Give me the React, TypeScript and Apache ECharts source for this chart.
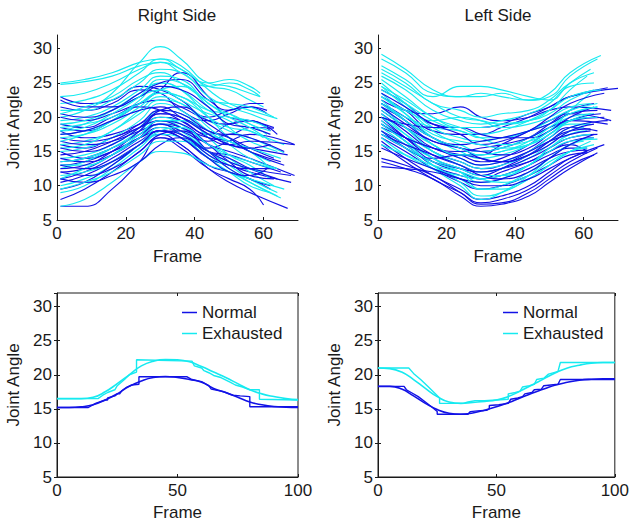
import React, { useEffect, useRef } from 'react';
import * as echarts from 'echarts';

// ---------- data ----------
// Control frames for the individual trials (last point uses the trial's end frame)
const trialFrames = [1, 8, 16, 24, 30, 36, 44, 50, 56];

// Right side, normal trials
const rightNormalEnd = [61, 61, 63, 63, 62, 69, 65, 69, 68, 62, 60, 67, 64, 63, 69, 64, 62, 63, 63, 66, 62, 60, 65, 67, 68, 66, 62, 61];
const rightNormal = [
  [23, 22, 22.5, 24.5, 24, 22.5, 20, 21, 21.5, 20.5],
  [21.5, 21, 22, 24, 23.5, 21, 19.5, 20.5, 21.5, 21],
  [18.5, 18, 19.5, 22, 24, 26.5, 23, 20, 19.5, 18.5],
  [18, 17, 17.5, 19, 20.5, 20, 18, 17.5, 18.5, 18.4],
  [16, 15.5, 17, 18.5, 20, 19.5, 17.5, 19, 19.5, 18],
  [15, 14, 15, 17, 18, 17, 15.5, 16.5, 17.5, 16],
  [13, 13.5, 15, 17, 18.5, 17.5, 15, 14.5, 13.5, 12],
  [12, 12.5, 14.5, 17, 19, 18.5, 16, 15, 14, 11.5],
  [11, 12, 14, 16.5, 18, 17, 14, 13, 12, 10.5],
  [10.5, 11.5, 13.5, 16, 17.5, 16, 13, 12, 11, 9.5],
  [8, 9.5, 12, 15, 17, 15.5, 12.5, 11, 9.5, 7.2],
  [7, 7, 9.5, 13.5, 17, 16, 12.5, 10.5, 9, 6.7],
  [16.5, 16, 16.5, 18, 19, 17.5, 15, 14, 12.5, 11],
  [14, 13.5, 14.5, 17, 19.5, 19, 16, 13.5, 11.5, 11],
  [19, 18.5, 20, 21.5, 21, 19.5, 17, 16, 16.5, 16],
  [20, 19.5, 20.5, 22, 22.5, 21.5, 19.5, 19, 19.5, 17.5],
  [12, 11.5, 12.5, 15, 17.5, 18, 15, 12.5, 11, 10],
  [17, 16.5, 17, 19, 21, 20.5, 18, 17, 15.5, 14],
  [11, 10.5, 11.5, 13.5, 16, 17, 14.5, 13, 12.5, 12.5],
  [13.5, 14, 15.5, 17.5, 19, 18, 16.5, 17.5, 17, 15],
  [22.5, 21.5, 21.5, 23, 24.5, 24, 21.5, 19, 18.5, 17.5],
  [20.5, 20, 21, 23.5, 25, 25.5, 22.5, 21, 22, 22],
  [14.5, 15, 16.5, 18.5, 19.5, 18.5, 17, 16.5, 15, 13.5],
  [12.5, 13, 15, 18, 20.5, 20, 17.5, 16, 15.5, 14.5],
  [9.5, 10.5, 13, 16, 18, 17.5, 15, 13.5, 12.5, 11.5],
  [15.5, 15, 16, 18.5, 21, 21.5, 19, 17, 15, 13],
  [17.5, 18, 19.5, 21, 21.5, 20, 17.5, 16, 15.5, 16],
  [13, 12.5, 13.5, 16, 18, 17, 14, 12, 11.5, 12.5],
];

// Right side, exhausted trials
const rightExhaustedEnd = [59, 59, 59, 64, 61, 62, 66, 64, 66, 64, 62, 63, 64, 65, 64, 62, 61, 60, 62, 61, 60, 63, 60, 65, 61, 63, 66, 62];
const rightExhausted = [
  [25, 25.5, 26.5, 28, 28.5, 27, 25, 25.5, 24.5, 23.5],
  [24.8, 25.2, 26, 27.5, 28, 26.5, 24.5, 25, 24, 23],
  [20, 21, 23.5, 28, 30.3, 28.5, 25, 24.5, 23.5, 23],
  [22, 22.5, 24, 26.5, 28.5, 27.5, 24, 22, 21, 19.8],
  [21, 21, 22.5, 25, 27, 26.5, 23, 21.5, 20.5, 19.5],
  [19.5, 20, 21.5, 24, 26, 25.5, 22, 20.5, 19, 18],
  [18, 19, 21, 23.5, 25, 24, 21, 19.5, 18, 16],
  [17.5, 18, 19.5, 22, 24, 24.5, 21.5, 18.5, 16.5, 15],
  [16, 16.5, 18, 21, 23, 22, 19.5, 18, 17, 14.8],
  [15, 15.5, 17, 19.5, 22, 21, 18, 16, 14, 12.5],
  [14, 14.5, 16, 18.5, 21, 20.5, 17, 14.5, 13, 11],
  [12.5, 13.5, 15.5, 18, 20, 19, 16, 14, 12, 10],
  [11, 12.5, 14.5, 17.5, 19.5, 18.5, 15, 13, 11, 9],
  [10, 11, 13, 16, 18.5, 17.5, 14.5, 12.5, 10.5, 8.2],
  [7, 8, 10.5, 13.5, 15, 14.8, 13, 12, 10.5, 8.5],
  [9, 10, 12.5, 15.5, 17.5, 17, 14, 12, 10, 9],
  [19, 19.5, 21, 23, 24, 22.5, 20.5, 20, 19.5, 18.5],
  [13, 13, 14.5, 17, 19, 18, 15, 13.5, 12.5, 12],
  [16.5, 17.5, 19.5, 22.5, 25, 24, 20, 17, 15, 13.5],
  [18.5, 19, 20, 22, 23.5, 23, 21, 20.5, 19, 17.5],
  [23, 23.5, 25, 27, 28, 27, 24.5, 24, 22.5, 21.5],
  [20.5, 21.5, 23, 25.5, 26.5, 25, 22.5, 22, 21.5, 20],
  [17, 17.5, 19, 21.5, 23.5, 23, 20, 18.5, 18, 17],
  [15.5, 16, 18, 20.5, 22.5, 22, 18.5, 16.5, 15.5, 14],
  [13.5, 14, 15.5, 17.5, 19.5, 19.5, 17.5, 16.5, 15, 13],
  [11.5, 12, 13.5, 16, 18, 18.5, 16, 14.5, 13.5, 12.5],
  [9.5, 10.5, 12, 14.5, 16.5, 16.5, 14, 12, 11, 9.5],
  [18, 18.5, 20.5, 23, 25.5, 25, 22, 20, 18.5, 16.5],
];

// Left side, normal trials
const leftNormalEnd = [70, 67, 68, 63, 68, 67, 64, 62, 63, 61, 66, 61, 61, 66, 64, 63, 64, 61, 63, 67, 66, 64, 65, 62, 64, 63, 61, 63];
const leftNormal = [
  [24, 22, 19, 18.5, 18.5, 19, 20.5, 21.5, 23, 24.2],
  [23, 21, 18, 17.5, 17.5, 18.5, 20, 21.5, 23, 24.3],
  [22.5, 21, 20.5, 21.5, 20, 19.5, 20, 21, 21.5, 21],
  [22, 20, 17, 15.5, 15, 15.5, 17, 19, 21, 22],
  [21.5, 19.5, 16, 14.5, 14.5, 16, 18, 19.5, 20.5, 19.5],
  [21, 18.5, 15.5, 14.5, 13.5, 14, 16, 18, 19.5, 19],
  [20.5, 18, 15, 13.5, 12.5, 13, 15, 17, 18.5, 18],
  [20, 17, 14, 12.5, 11.5, 12.5, 14.5, 16.5, 18, 18.3],
  [19.5, 17, 14.5, 13, 12, 12.5, 13.5, 15, 16.5, 17],
  [19, 16.5, 13.5, 12, 11, 11.5, 13, 14.5, 15.5, 15.5],
  [18.5, 17, 15.5, 15, 15.5, 16, 17, 18.5, 19.5, 20],
  [18, 16, 13, 11.5, 11, 12, 13.5, 15, 16, 15],
  [17, 15, 12.5, 10.5, 9.5, 10, 11.5, 13, 14.5, 14.8],
  [16.5, 14, 11.5, 9.5, 8, 8.5, 10, 12, 14, 16],
  [16, 13.5, 11, 9, 7.5, 8, 9.5, 11.5, 13.5, 15.5],
  [14, 13, 11.5, 9, 7.3, 7.5, 9, 11, 13, 14.5],
  [13.5, 12.5, 11, 8.5, 7, 7.3, 8.5, 10.5, 12.5, 14.8],
  [12.8, 12.5, 12, 11, 10.5, 11, 12.5, 14, 15, 15.2],
  [20, 19, 18.5, 18.5, 17.5, 17, 17, 18, 20, 21.5],
  [17.5, 15.5, 14, 14.5, 14, 13.5, 14.5, 16.5, 18.5, 19.5],
  [23.5, 21.5, 19, 17.5, 16, 16.5, 18, 20, 22, 23.5],
  [22, 19.5, 17, 16, 16.5, 17, 18, 19, 20.5, 21],
  [20, 18.5, 16.5, 15.5, 15, 14.5, 15.5, 17.5, 19.5, 20.5],
  [19, 17, 15.5, 14, 13, 13.5, 15, 16.5, 17.5, 18],
  [18, 15.5, 13.5, 12.5, 12, 12.5, 14, 15.5, 17, 17.5],
  [17.5, 16, 14.5, 13, 11.5, 11, 12, 14, 16, 17.5],
  [15.5, 14, 12.5, 11, 10, 10, 11, 12.5, 14, 15],
  [21.5, 19, 16.5, 15.5, 14, 13.5, 14.5, 16, 18, 19],
];

// Left side, exhausted trials
const leftExhaustedEnd = [65, 64, 62, 63, 63, 65, 64, 63, 61, 62, 60, 64, 60, 62, 63, 61, 64, 62, 62, 62, 61, 63, 64, 62, 62, 61, 63, 64];
const leftExhausted = [
  [29.2, 27, 24, 23, 23, 23.5, 22.5, 23.5, 26.5, 29],
  [28.5, 26.5, 23.5, 23, 23.5, 23, 22.5, 23, 26, 28.5],
  [27.5, 25.5, 23, 24.5, 24.5, 24, 23, 22.5, 25, 27],
  [27, 25, 22, 21, 20, 20.5, 21, 22.5, 25, 26.5],
  [26, 24, 21, 19.5, 19, 19.5, 20.5, 22, 24.5, 25],
  [25.5, 23, 20, 18.5, 17.5, 18, 19.5, 21, 23, 24],
  [25, 22, 18.5, 17, 16.5, 17, 18, 19.5, 21, 22],
  [24.5, 21.5, 18, 16, 15, 15.5, 17, 18.5, 20, 20.5],
  [23.5, 20.5, 17, 15, 14, 14.5, 16, 18, 19.5, 20],
  [22.5, 19.5, 16, 14, 13, 13.5, 15, 17, 19, 19],
  [21.5, 18.5, 15, 13, 12, 12.5, 14, 16, 18, 18.5],
  [20.5, 17.5, 14, 12, 10.5, 11, 13, 15, 16.5, 16.8],
  [19.5, 16.5, 13, 11, 9.5, 10, 12, 14, 16, 16.5],
  [18.5, 16, 13, 10.5, 8.5, 9, 11, 13, 15, 16.5],
  [18, 15.5, 12.5, 10, 8, 9, 11.5, 14, 16, 17],
  [17, 14.5, 12.5, 11.5, 11, 11.5, 13, 15.5, 17.5, 18],
  [22, 20, 18.5, 18, 17, 17, 18, 19, 20.5, 21.5],
  [23, 21, 19.5, 20, 19.5, 18.5, 19, 20, 21.5, 22],
  [20, 17.5, 15, 13.5, 12.5, 13, 14.5, 16.5, 18.5, 19],
  [24, 22, 19.5, 18, 17, 16, 16.5, 18, 21, 23.5],
  [26.5, 24.5, 22, 20, 19.5, 19, 19.5, 21, 24, 26],
  [24.5, 22.5, 20, 18.5, 18.5, 19, 19.5, 20.5, 22.5, 24],
  [23, 20.5, 17.5, 16.5, 16, 15.5, 16, 17.5, 19.5, 20],
  [21, 18.5, 16, 14.5, 14.5, 15, 16, 17.5, 19.5, 20.5],
  [19, 16.5, 14, 12.5, 11.5, 11.5, 13, 15.5, 17, 17.5],
  [17.5, 15.5, 13.5, 12, 9.5, 9.5, 11, 13, 15, 15.5],
  [16, 14.5, 13, 12, 11, 10.5, 11.5, 13.5, 15, 16],
  [22, 19.5, 17, 15.5, 14.5, 15, 16.5, 18.5, 20.5, 21.5],
];

// Normalised mean curves (frames 0..100 every 5)
const meanFrames = [0, 5, 10, 15, 20, 25, 30, 35, 40, 45, 50, 55, 60, 65, 70, 75, 80, 85, 90, 95, 100];
const rightMeanNormal = [15.2, 15.2, 15.3, 15.6, 16.3, 17.2, 18.3, 19.1, 19.6, 19.75, 19.6, 19.3, 18.9, 18.0, 17.4, 16.7, 16.0, 15.6, 15.35, 15.25, 15.2];
const rightMeanExhausted = [16.5, 16.5, 16.5, 16.7, 17.5, 18.7, 20.0, 21.3, 22.0, 22.25, 22.2, 21.9, 21.2, 20.4, 19.6, 18.7, 17.8, 17.2, 16.8, 16.5, 16.35];
const leftMeanNormal = [18.3, 18.3, 17.9, 16.9, 15.8, 14.9, 14.35, 14.2, 14.4, 14.8, 15.3, 15.9, 16.6, 17.3, 17.9, 18.5, 18.9, 19.2, 19.35, 19.4, 19.4];
const leftMeanExhausted = [21.0, 20.9, 20.4, 19.3, 18.0, 16.8, 16.0, 15.8, 15.95, 16.1, 16.3, 16.8, 17.6, 18.5, 19.4, 20.3, 21.0, 21.4, 21.7, 21.8, 21.8];

// Quantised (stepped) versions [frame, angle]
const rightStepNormal = [[0, 15.2], [13, 15.2], [16, 15.8], [20, 16.3], [21, 16.3], [21, 16.6], [24, 16.9], [25, 17.2], [26, 17.2], [27, 17.7], [29, 18.2], [31, 18.5], [34, 18.6], [34, 19.7], [54, 19.7], [56, 19.3], [60, 19.0], [63, 18.4], [64, 17.9], [68, 17.6], [70, 17.4], [73, 17.0], [76, 16.9], [80, 16.8], [80, 15.3], [100, 15.3]];
const rightStepExhausted = [[0, 16.5], [17, 16.5], [19, 17.0], [21, 17.4], [24, 17.8], [25, 18.4], [28, 19.3], [30, 20.0], [33, 20.4], [33, 22.2], [56, 22.0], [57, 21.3], [60, 21.0], [61, 20.6], [63, 20.3], [65, 19.9], [68, 19.6], [72, 18.9], [74, 18.5], [77, 18.2], [80, 17.8], [84, 17.8], [84, 16.4], [100, 16.3]];
const leftStepNormal = [[0, 18.3], [11, 18.3], [12, 17.8], [14, 17.4], [17, 16.8], [20, 16.0], [23, 15.2], [25, 14.6], [25, 14.2], [38, 14.2], [39, 14.6], [42, 14.7], [46, 14.8], [47, 15.0], [47, 15.5], [51, 15.6], [55, 15.8], [56, 16.4], [59, 16.6], [61, 16.8], [62, 17.2], [65, 17.4], [66, 17.8], [69, 17.9], [70, 18.4], [73, 18.5], [76, 18.6], [77, 19.3], [100, 19.3]];
const leftStepExhausted = [[0, 21], [13, 21], [15, 20.2], [18, 19.3], [21, 18.3], [24, 17.3], [26, 16.6], [26, 15.8], [36, 15.8], [38, 16.0], [41, 16.2], [45, 16.2], [50, 16.3], [55, 16.4], [55, 17.2], [58, 17.4], [60, 17.6], [61, 18.2], [64, 18.4], [66, 18.6], [67, 19.3], [70, 19.5], [72, 20.1], [75, 20.4], [76, 20.5], [77, 21.8], [100, 21.8]];

const titles = ['Right Side', 'Left Side'];
const legendNames = ['Normal', 'Exhausted'];

// ---------- styling ----------
const BLUE = '#1212e6';
const CYAN = '#16eaf0';
const FONT = "'Liberation Sans', Arial, Helvetica, sans-serif";
const INK = '#1a1a1a';
const FS = 17;

const grids = [
  { left: 57, top: 35, width: 241, height: 185 },
  { left: 378, top: 35, width: 240, height: 185 },
  { left: 57, top: 293, width: 241, height: 186 },
  { left: 378, top: 293, width: 240, height: 186 },
];

function trialSeries(vals: number[][], ends: number[], color: string, axis: number) {
  return vals.map((v, k) => ({
    type: 'line',
    xAxisIndex: axis,
    yAxisIndex: axis,
    data: v.map((y, i) => [i < trialFrames.length ? trialFrames[i] : ends[k], y]),
    smooth: 0.5,
    symbol: 'none',
    silent: true,
    lineStyle: { color, width: 1.15 },
    itemStyle: { color },
  }));
}

function interleave(a: any[], b: any[]) {
  const out: any[] = [];
  const n = Math.max(a.length, b.length);
  for (let i = 0; i < n; i++) {
    if (a[i]) out.push(a[i]);
    if (b[i]) out.push(b[i]);
  }
  return out;
}

function meanSeries(name: string | undefined, vals: number[], color: string, axis: number) {
  return {
    type: 'line',
    name,
    xAxisIndex: axis,
    yAxisIndex: axis,
    data: vals.map((y, i) => [meanFrames[i], y]),
    smooth: 0.5,
    symbol: 'none',
    silent: true,
    lineStyle: { color, width: 1.6 },
    itemStyle: { color },
  };
}

function stepSeries(pts: number[][], color: string, axis: number) {
  return {
    type: 'line',
    xAxisIndex: axis,
    yAxisIndex: axis,
    data: pts,
    symbol: 'none',
    silent: true,
    lineStyle: { color, width: 1.4 },
    itemStyle: { color },
  };
}

const labelFmt = (step: number) => (v: number) => (Math.abs(v % step) < 1e-9 ? String(v) : '');

function mainX(grid: number, max: number, interval: number, gap: number) {
  return {
    type: 'value',
    gridIndex: grid,
    min: 0,
    max,
    interval,
    name: 'Frame',
    nameLocation: 'middle',
    nameGap: gap,
    nameTextStyle: { fontSize: FS, color: INK, fontFamily: FONT },
    axisLine: { show: true, onZero: false, lineStyle: { color: INK, width: 1 } },
    axisTick: { show: true, inside: true, length: 3, lineStyle: { color: INK } },
    axisLabel: { fontSize: FS, color: INK, fontFamily: FONT, margin: 5, formatter: labelFmt(interval), showMaxLabel: max % interval === 0 },
    splitLine: { show: false },
  };
}

function mainY(grid: number) {
  return {
    type: 'value',
    gridIndex: grid,
    min: 5,
    max: 32,
    interval: 5,
    name: 'Joint Angle',
    nameLocation: 'middle',
    nameGap: 35,
    nameTextStyle: { fontSize: FS, color: INK, fontFamily: FONT },
    axisLine: { show: true, onZero: false, lineStyle: { color: INK, width: 1 } },
    axisTick: { show: true, inside: true, length: 3, lineStyle: { color: INK } },
    axisLabel: { fontSize: FS, color: INK, fontFamily: FONT, margin: 5, formatter: labelFmt(5), showMaxLabel: false },
    splitLine: { show: false },
  };
}

function mirrorX(grid: number) {
  return {
    type: 'value', gridIndex: grid, position: 'top', min: 0, max: 100, interval: 50,
    axisLine: { show: false },
    axisTick: { show: true, inside: true, length: 3, lineStyle: { color: INK } },
    axisLabel: { show: false },
    splitLine: { show: false },
  };
}

function mirrorY(grid: number) {
  return {
    type: 'value', gridIndex: grid, position: 'right', min: 5, max: 32, interval: 5,
    axisLine: { show: false },
    axisTick: { show: true, inside: true, length: 3, lineStyle: { color: INK } },
    axisLabel: { show: false },
    splitLine: { show: false },
  };
}

function buildOption() {
  const series: any[] = [
    ...interleave(trialSeries(rightNormal, rightNormalEnd, BLUE, 0), trialSeries(rightExhausted, rightExhaustedEnd, CYAN, 0)),
    ...interleave(trialSeries(leftNormal, leftNormalEnd, BLUE, 1), trialSeries(leftExhausted, leftExhaustedEnd, CYAN, 1)),
    stepSeries(rightStepExhausted, CYAN, 2),
    meanSeries(legendNames[1], rightMeanExhausted, CYAN, 2),
    stepSeries(rightStepNormal, BLUE, 2),
    meanSeries(legendNames[0], rightMeanNormal, BLUE, 2),
    stepSeries(leftStepExhausted, CYAN, 3),
    meanSeries(legendNames[1], leftMeanExhausted, CYAN, 3),
    stepSeries(leftStepNormal, BLUE, 3),
    meanSeries(legendNames[0], leftMeanNormal, BLUE, 3),
  ];

  const legendBase = {
    orient: 'vertical',
    top: 304,
    padding: 0,
    itemGap: 4,
    itemWidth: 15,
    itemHeight: 1.5,
    icon: 'rect',
    selectedMode: false,
    textStyle: { fontSize: FS, color: INK, fontFamily: FONT, padding: [0, 0, 0, 0] },
    data: legendNames,
  };

  return {
    animation: false,
    backgroundColor: '#ffffff',
    textStyle: { fontFamily: FONT },
    grid: grids.map((g, i) => ({
      ...g,
      show: i >= 2,
      borderColor: INK,
      borderWidth: 1,
      backgroundColor: 'transparent',
    })),
    xAxis: [mainX(0, 70, 20, 28), mainX(1, 70, 20, 28), mainX(2, 100, 50, 27), mainX(3, 100, 50, 27), mirrorX(2), mirrorX(3)],
    yAxis: [mainY(0), mainY(1), mainY(2), mainY(3), mirrorY(2), mirrorY(3)],
    legend: [
      { ...legendBase, left: 182 },
      { ...legendBase, left: 503 },
    ],
    graphic: [
      { type: 'text', x: 177, y: 15, style: { text: titles[0], textAlign: 'center', textVerticalAlign: 'middle', fontSize: FS, fill: INK, fontFamily: FONT } },
      { type: 'text', x: 498, y: 15, style: { text: titles[1], textAlign: 'center', textVerticalAlign: 'middle', fontSize: FS, fill: INK, fontFamily: FONT } },
    ],
    series,
  };
}

export default function App() {
  const ref = useRef<HTMLDivElement>(null);
  useEffect(() => {
    if (!ref.current) return;
    const chart = echarts.init(ref.current, undefined, { renderer: 'svg' });
    chart.setOption(buildOption() as any);
    return () => chart.dispose();
  }, []);
  return (
    <div
      ref={ref}
      style={{ position: 'absolute', left: 0, top: 0, width: 632, height: 522, background: '#fff' }}
    />
  );
}
